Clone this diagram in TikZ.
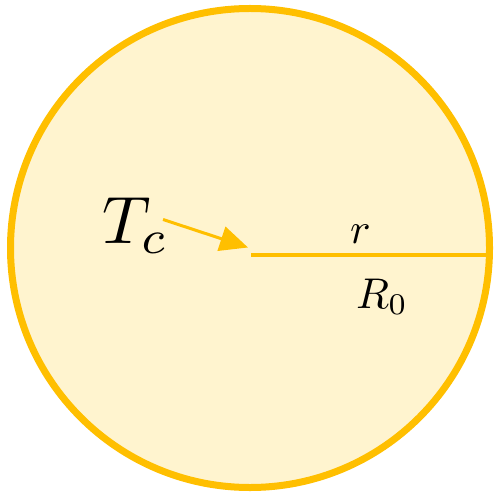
\documentclass[tikz,border=0pt]{standalone}
\usepackage{graphicx}
\usetikzlibrary{arrows.meta}
\definecolor{ambr}{HTML}{FFBF00}
\definecolor{pale}{HTML}{FFF4CF}
\begin{document}
\begin{tikzpicture}[x=1pt,y=-1pt,
  lbl/.style={inner sep=0pt,outer sep=0pt,anchor=base west},
  conn/.style={draw=ambr,line width=3pt}]
\useasboundingbox (0,0) rectangle (493,494);
\node[circle,draw=ambr,fill=pale,line width=7pt,minimum size=479pt,inner sep=0pt] (disk) at (250,248) {};
\coordinate (ctr) at (251,255);
\coordinate (rim) at (486,255);
\coordinate (astart) at (163,219.5);
\coordinate (atip) at (248,247.5);
\node[lbl] (tc) at (102,243) {\scalebox{6.7}{$T_c$}};
\node[lbl] (r) at (350,243) {\scalebox{4.3}{$r$}};
\node[lbl] (r0) at (356,308) {\scalebox{4.3}{$R_0$}};
\draw[conn,line width=4pt] (ctr) -- (rim);
\draw[conn,-{Triangle[length=28pt,width=25pt]}] (astart) -- (atip);
\end{tikzpicture}
\end{document}
